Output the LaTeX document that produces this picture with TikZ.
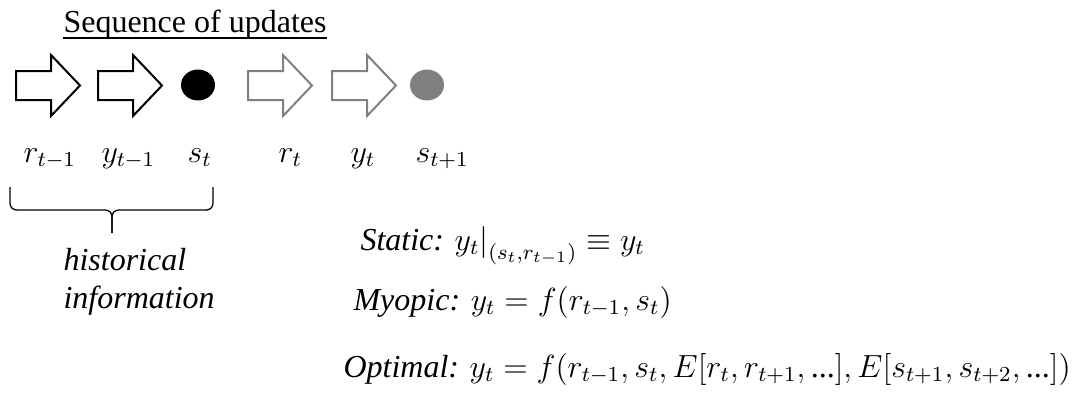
\documentclass[tikz,border=0pt]{standalone}
\usepackage{fontspec}
\setmainfont{Liberation Serif}
\usepackage{tikz}
\usetikzlibrary{shapes.geometric, positioning}
\definecolor{pastblack}{HTML}{000000}
\definecolor{futuregray}{HTML}{808080}
\newcommand{\tdots}{\textnormal{...}}

\begin{document}
\begin{tikzpicture}[
  x=0.375pt, y=-0.375pt,
  every node/.style={font=\fontsize{12}{14.25}\selectfont, inner sep=0pt},
  updarrow/.style={line width=0.75pt, fill=white, line join=miter},
  dot/.style={ellipse, minimum width=12.75pt, minimum height=11.6pt},
  lbl/.style={anchor=base west},
]
  \useasboundingbox (0,0) rectangle (1080,394);

  \node[lbl] (title) at (63,32) {Sequence of updates};
  \draw[line width=0.6pt] ([yshift=-2.3pt]title.base west) -- ([yshift=-2.3pt]title.base east);

  % updates: past ones in black, coming ones in gray
  \foreach \x/\c in {16/pastblack, 98/pastblack, 248/futuregray, 332/futuregray}
    \draw[updarrow, draw=\c] (\x,71) -- ++(35,0) -- ++(0,-16) -- ++(29,30.5) -- ++(-29,30.5) -- ++(0,-16) -- ++(-35,0) -- cycle;
  \node[dot, fill=pastblack] (snow) at (198,85) {};
  \node[dot, fill=futuregray] (snext) at (427,85) {};

  \node[lbl] (rprev) at (23,162) {$r_{t-1}$};
  \node[lbl] (yprev) at (101,162) {$y_{t-1}$};
  \node[lbl] (slbl) at (187,162) {$s_t$};
  \node[lbl] (rnow) at (278,162) {$r_t$};
  \node[lbl] (ynow) at (350,162) {$y_t$};
  \node[lbl] (snextlbl) at (415,162) {$s_{t+1}$};

  % brace under the past
  \draw[line width=0.5pt, rounded corners=2.5pt] (10,187) -- (10,210) -- (112,210) -- (112,233);
  \draw[line width=0.5pt, rounded corners=2.5pt] (213,187) -- (213,210) -- (112,210) -- (112,233);
  \node[lbl] (hist) at (63,270) {\textit{historical}};
  \node[lbl] (info) at (63,308) {\textit{information}};

  \node[lbl] (static) at (360,250) {\textit{Static:} $y_t\big|_{(s_t,r_{t-1})} \equiv y_t$};
  \node[lbl] (myopic) at (353,310) {\textit{Myopic:} $y_t = f(r_{t-1}, s_t)$};
  \node[lbl] (optimal) at (343,377) {\textit{Optimal:} $y_t = f(r_{t-1}, s_t, E[r_t, r_{t+1}, \tdots], E[s_{t+1}, s_{t+2}, \tdots])$};
\end{tikzpicture}
\end{document}
